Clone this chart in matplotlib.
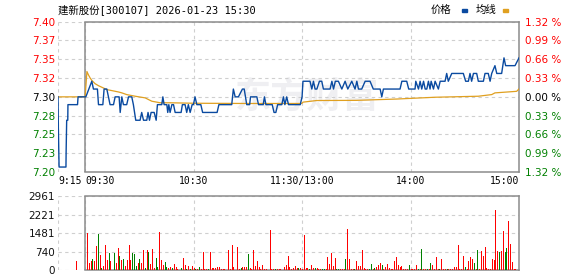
import matplotlib
matplotlib.use("Agg")
import matplotlib.pyplot as plt
from matplotlib.patches import Rectangle

# ---------------- data ----------------
prev_close = 7.30
title = "建新股份[300107] 2026-01-23 15:30"
legend_labels = ["价格", "均线"]
x_tick_minutes = [-15, 0, 60, 120, 180, 240]
x_tick_labels = ["9:15", "09:30", "10:30", "11:30/13:00", "14:00", "15:00"]
pct_steps = [-1.32, -0.99, -0.66, -0.33, 0.0, 0.33, 0.66, 0.99, 1.32]
vol_max = 2961

# price line vertices (minutes from 09:30; negative = call auction)
price_t = [-15, -14.8, -14.4, -10.6, -10.5, -10.2, -9.6, -9.5, -4.2, -3.9, 0,
           0.4, 3.7, 4.6, 6.8, 7.4, 9.8, 10.5, 12.0, 12.9, 13.8, 15.7, 16.6, 18.8,
           19.4, 20.3, 21.2, 23.0, 24.0, 25.8, 26.7, 28.0, 30.4, 31.3, 32.3, 34.1,
           34.8, 35.6, 36.5, 38.2, 39.3, 40.0, 42.4, 43.0, 43.7, 45.2, 45.7, 46.3,
           47.0, 48.0, 48.9, 49.8, 53.1, 53.8, 55.3, 56.2, 57.1, 58.1, 59.2, 59.9,
           60.8, 61.8, 64.0, 65.0, 73.0, 74.0, 81.1, 82.0, 83.0, 84.8, 87.0, 88.0,
           89.4, 91.0, 91.5, 95.0, 95.9, 98.5, 99.2, 100.0, 103.5, 104.5, 105.5,
           106.5, 108.8, 109.7, 110.5, 111.5, 112.5, 119.0, 120.0,
           120.5, 124.4, 125.4, 126.3, 127.2, 128.2, 129.6, 130.9, 131.8, 135.5,
           136.5, 137.4, 138.4, 140.1, 142.0, 143.8, 145.3, 147.5, 149.3, 150.3,
           151.2, 153.0, 154.9, 157.6, 159.4, 163.2, 164.1, 165.0, 174.2, 175.2,
           177.9, 179.0, 182.5, 182.9, 184.4, 185.3, 186.2, 187.2, 188.1, 189.0,
           189.9, 190.8, 191.4, 192.7, 193.6, 195.4, 196.4, 199.1, 200.0, 200.9,
           202.8, 209.2, 210.5, 212.0, 212.9, 213.8, 214.8, 216.6, 217.5, 220.3,
           221.2, 223.0, 224.0, 224.9, 226.7, 227.7, 230.4, 231.7, 232.6, 237.8, 240]
price_v = [7.30, 7.26, 7.21, 7.21, 7.23, 7.27, 7.27, 7.29, 7.29, 7.30, 7.30,
           7.30, 7.32, 7.31, 7.31, 7.29, 7.29, 7.31, 7.31, 7.30, 7.29, 7.29, 7.30, 7.30,
           7.28, 7.30, 7.29, 7.29, 7.30, 7.30, 7.29, 7.27, 7.27, 7.28, 7.27, 7.27,
           7.28, 7.27, 7.28, 7.28, 7.27, 7.29, 7.29, 7.30, 7.29, 7.29, 7.28, 7.29,
           7.28, 7.29, 7.29, 7.28, 7.28, 7.29, 7.29, 7.28, 7.29, 7.28, 7.29, 7.29,
           7.30, 7.29, 7.29, 7.28, 7.28, 7.29, 7.29, 7.31, 7.30, 7.30, 7.31, 7.31,
           7.29, 7.29, 7.30, 7.30, 7.29, 7.29, 7.30, 7.29, 7.29, 7.28, 7.28,
           7.29, 7.29, 7.30, 7.29, 7.30, 7.29, 7.29, 7.30,
           7.32, 7.32, 7.31, 7.32, 7.31, 7.31, 7.32, 7.32, 7.31, 7.31,
           7.32, 7.31, 7.32, 7.32, 7.31, 7.32, 7.31, 7.32, 7.31, 7.32,
           7.31, 7.31, 7.32, 7.32, 7.31, 7.31, 7.30, 7.31, 7.31, 7.32,
           7.32, 7.31, 7.31, 7.32, 7.31, 7.32, 7.31, 7.32, 7.31, 7.31,
           7.32, 7.31, 7.32, 7.31, 7.32, 7.31, 7.32, 7.32, 7.33, 7.32,
           7.33, 7.33, 7.32, 7.32, 7.33, 7.32, 7.33, 7.33, 7.32, 7.32,
           7.33, 7.33, 7.32, 7.33, 7.34, 7.33, 7.33, 7.35, 7.34, 7.34, 7.35]

# average price line vertices
avg_t = [-15, 0, 1.0, 1.8, 2.8, 3.7, 5.5, 7.4, 10.1, 12.0, 14.8, 18.4, 20.3, 23.0,
         27.7, 33.2, 36.9, 41.5, 47.1, 60, 90, 119.8, 120.5, 128.1, 150, 172.4,
         193.6, 217.5, 224.9, 226.7, 234.0, 238.7, 240]
avg_v = [7.30, 7.30, 7.3325, 7.3283, 7.3241, 7.3211, 7.3169, 7.3143, 7.3114, 7.3093,
         7.3080, 7.3063, 7.3051, 7.3029, 7.3008, 7.2987, 7.2944, 7.2924, 7.2924,
         7.2918, 7.2915, 7.2915, 7.2932, 7.2953, 7.2955, 7.2972, 7.2995, 7.3008,
         7.3029, 7.3051, 7.3063, 7.3071, 7.3102]

# call-auction volume (09:25)
auction_t = -5
auction_vol = 360
# per-minute volume 09:31 .. 15:00 (240 values, 10 per row);
# positive = up minute (red), negative = down minute (green)
minute_vol = [
    1500, 295, 362, -442, 362, 965, -1447, 603, -67, 160,
    1005, 402, -683, 375, 0, -683, 295, 884, -563, 415,
    -442, 174, 389, 1005, 389, -683, -643, -174, 281, -442,
    281, 804, -80, 804, -737, 241, 844, 80, -482, -120,
    1528, 402, 201, -321, -134, 80, 134, -67, 241, 134,
    40, 0, -67, 482, 201, -40, 174, -40, 174, 94,
    -40, 53, -120, 40, 737, 53, 40, -40, 737, 80,
    80, 80, 134, 107, 40, 40, 53, 0, 804, 40,
    1005, 134, 0, 938, 53, -80, 134, 134, 134, -643,
    80, 53, 804, 147, 375, 134, 53, 201, 53, 40,
    0, 1608, 40, 40, -40, 40, 40, 40, 0, 120,
    201, 563, 134, 40, 67, 160, 80, -67, 67, 40,
    1407, 67, 94, -40, 201, 67, -80, 67, 40, 40,
    -40, -40, 40, 536, 254, 683, 174, 482, -40, -40,
    40, 40, 40, -442, 1662, 442, 40, 40, -40, 375,
    174, 174, 804, 80, 40, 40, -40, -241, 40, -80,
    134, 201, 281, -201, 40, 107, 241, 67, 40, 40,
    362, 522, 201, 107, 160, 53, 40, 40, -201, 40,
    40, 40, 201, -40, 40, -844, 40, 40, -40, 40,
    -281, 201, 40, 536, 40, -40, 442, 40, 40, -40,
    40, 40, 40, 120, 120, 1005, 40, 40, 563, -120,
    40, 362, 522, 442, -281, 40, -804, 40, 764, 563,
    924, 94, 40, 40, 442, 402, 2425, 764, -723, 764,
    1568, -723, -884, 1970, 1045, 321, 40, 40, 0, 2747,
]

# ---------------- styling ----------------
RED = "#ff0000"
GREEN = "#008000"
BLUE = "#0a4aa0"
ORANGE = "#e0a020"
BORDER = "#8c8c8c"
GRID = "#cfcfcf"
NUM_FONT = "DejaVu Sans"
MIX_FONT = ["DejaVu Sans Mono", "Noto Sans CJK SC"]

W_PX, H_PX = 578, 276
fig = plt.figure(figsize=(W_PX / 100, H_PX / 100), dpi=100)
left = 58 / W_PX
width = 461 / W_PX

ax = fig.add_axes([left, 1 - 172 / H_PX, width, 150.3 / H_PX])
axv = fig.add_axes([left, 1 - 270 / H_PX, width, 73.7 / H_PX])

lo = prev_close * (1 + pct_steps[0] / 100)
hi = prev_close * (1 + pct_steps[-1] / 100)
price_ticks = [prev_close * (1 + p / 100) for p in pct_steps]


def lvl_color(p):
    if abs(p) < 1e-9:
        return "#000000"
    return RED if p > 0 else GREEN


def frame(a):
    a.set_xlim(x_tick_minutes[0], x_tick_minutes[-1])
    a.spines["left"].set_visible(False)
    for s in ("top", "bottom", "right"):
        a.spines[s].set_color(BORDER)
        a.spines[s].set_linewidth(1.1)
    a.spines["top"].set_bounds(0, x_tick_minutes[-1])
    a.spines["bottom"].set_bounds(0, x_tick_minutes[-1])
    a.axvline(0, color=BORDER, lw=1.1, zorder=3)
    a.set_xticks(x_tick_minutes)
    a.grid(True, linestyle=(0, (3, 3)), color=GRID, lw=0.8)
    a.set_axisbelow(True)
    a.tick_params(length=0)


# watermark
ax.text(123, prev_close, "东方财富", fontsize=26, fontweight="bold",
        family="Noto Sans CJK SC", color="#efeff2", ha="center", va="center",
        zorder=0)

# price panel
frame(ax)
ax.set_ylim(lo, hi)
ax.plot(avg_t, avg_v, color=ORANGE, lw=0.9, zorder=4)
ax.plot(price_t, price_v, color=BLUE, lw=1.0, zorder=5)
ax.set_yticks(price_ticks)
ax.set_yticklabels([f"{v:.2f}" for v in price_ticks], fontsize=7.5,
                   family=NUM_FONT)
for lab, p in zip(ax.get_yticklabels(), pct_steps):
    lab.set_color(lvl_color(p))
ax.tick_params(axis="y", pad=2)
ax.set_xticklabels(x_tick_labels, fontsize=7, family="DejaVu Sans Mono")
aligns = ["left", "left", "center", "center", "center", "right"]
for lab, ha in zip(ax.get_xticklabels(), aligns):
    lab.set_horizontalalignment(ha)
ax.tick_params(axis="x", pad=3)

ax2 = ax.twinx()
ax2.set_ylim(pct_steps[0], pct_steps[-1])
for s in ax2.spines.values():
    s.set_visible(False)
ax2.set_yticks(pct_steps)
ax2.set_yticklabels([f"{abs(p):.2f} %" for p in pct_steps], fontsize=7.5,
                    family=NUM_FONT)
for lab, p in zip(ax2.get_yticklabels(), pct_steps):
    lab.set_color(lvl_color(p))
ax2.tick_params(length=0, pad=4)

# volume panel
frame(axv)
axv.set_ylim(0, vol_max)
minutes = list(range(1, len(minute_vol) + 1))
bar_t = [auction_t] + minutes
bar_v = [auction_vol] + [abs(v) for v in minute_vol]
bar_c = [RED] + [RED if v >= 0 else GREEN for v in minute_vol]
axv.vlines(bar_t, 0, bar_v, colors=bar_c, linewidth=0.6, antialiased=False,
           zorder=4)
vol_ticks = [vol_max * k / 4 for k in range(5)]
axv.set_yticks(vol_ticks)
axv.set_yticklabels([str(int(v + 0.5)) for v in vol_ticks], fontsize=7.5,
                    family=NUM_FONT, color="#111111")
axv.tick_params(axis="y", pad=2)
axv.set_xticklabels([])

# title and legend
fig.text(58 / W_PX, 1 - 9.5 / H_PX, title, fontsize=7.5, family=MIX_FONT,
         va="center", ha="left", color="#000000")
fig.text(431 / W_PX, 1 - 10 / H_PX, legend_labels[0], fontsize=7.5,
         family=MIX_FONT, va="center", ha="left")
fig.text(476 / W_PX, 1 - 10 / H_PX, legend_labels[1], fontsize=7.5,
         family=MIX_FONT, va="center", ha="left")
fig.patches.append(Rectangle((461.5 / W_PX, 1 - 11.5 / H_PX), 5.5 / W_PX,
                             2.5 / H_PX, transform=fig.transFigure,
                             color=BLUE, figure=fig))
fig.patches.append(Rectangle((502.5 / W_PX, 1 - 11.5 / H_PX), 5.5 / W_PX,
                             2.5 / H_PX, transform=fig.transFigure,
                             color=ORANGE, figure=fig))

fig.savefig("out.png", dpi=100)
